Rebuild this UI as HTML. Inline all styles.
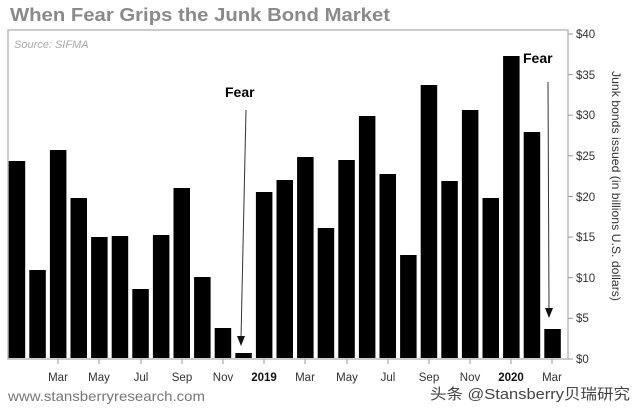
<!DOCTYPE html>
<html><head><style>body{margin:0;background:#fff}svg{display:block}</style></head><body>
<svg width="640" height="412" xmlns="http://www.w3.org/2000/svg" font-family="Liberation Sans, sans-serif">
<text x="10" y="21" font-size="18" font-weight="bold" fill="#8a8a8a" textLength="380" lengthAdjust="spacingAndGlyphs">When Fear Grips the Junk Bond Market</text>
<rect x="8" y="30" width="560" height="329" fill="none" stroke="#aaa" stroke-width="1.2"/>
<text x="14" y="48" font-size="11" font-style="italic" fill="#aaa">Source: SIFMA</text>
<g fill="#000">
<rect x="8.7" y="161" width="16.5" height="197"/>
<rect x="29.3" y="270" width="16.5" height="88"/>
<rect x="49.9" y="150" width="16.5" height="208"/>
<rect x="70.5" y="198" width="16.5" height="160"/>
<rect x="91.1" y="237" width="16.5" height="121"/>
<rect x="111.7" y="236" width="16.5" height="122"/>
<rect x="132.3" y="289" width="16.5" height="69"/>
<rect x="152.9" y="235" width="16.5" height="123"/>
<rect x="173.5" y="188" width="16.5" height="170"/>
<rect x="194.1" y="277" width="16.5" height="81"/>
<rect x="214.7" y="328" width="16.5" height="30"/>
<rect x="235.3" y="353" width="16.5" height="5"/>
<rect x="255.9" y="192" width="16.5" height="166"/>
<rect x="276.5" y="180" width="16.5" height="178"/>
<rect x="297.1" y="157" width="16.5" height="201"/>
<rect x="317.7" y="228" width="16.5" height="130"/>
<rect x="338.3" y="160" width="16.5" height="198"/>
<rect x="358.9" y="116" width="16.5" height="242"/>
<rect x="379.5" y="174" width="16.5" height="184"/>
<rect x="400.1" y="255" width="16.5" height="103"/>
<rect x="420.7" y="85" width="16.5" height="273"/>
<rect x="441.3" y="181" width="16.5" height="177"/>
<rect x="461.9" y="110" width="16.5" height="248"/>
<rect x="482.5" y="198" width="16.5" height="160"/>
<rect x="503.1" y="56" width="16.5" height="302"/>
<rect x="523.7" y="132" width="16.5" height="226"/>
<rect x="544.3" y="329" width="16.5" height="29"/>
</g>
<g stroke="#999" stroke-width="1">
<line x1="568" y1="34" x2="573" y2="34"/><line x1="568" y1="74.6" x2="573" y2="74.6"/><line x1="568" y1="115.2" x2="573" y2="115.2"/><line x1="568" y1="155.8" x2="573" y2="155.8"/><line x1="568" y1="196.5" x2="573" y2="196.5"/><line x1="568" y1="237.1" x2="573" y2="237.1"/><line x1="568" y1="277.7" x2="573" y2="277.7"/><line x1="568" y1="318.3" x2="573" y2="318.3"/><line x1="568" y1="359" x2="573" y2="359"/>
<line x1="58" y1="359" x2="58" y2="364"/><line x1="99" y1="359" x2="99" y2="364"/><line x1="141" y1="359" x2="141" y2="364"/><line x1="182" y1="359" x2="182" y2="364"/><line x1="223" y1="359" x2="223" y2="364"/><line x1="264" y1="359" x2="264" y2="364"/><line x1="305" y1="359" x2="305" y2="364"/><line x1="347" y1="359" x2="347" y2="364"/><line x1="388" y1="359" x2="388" y2="364"/><line x1="429" y1="359" x2="429" y2="364"/><line x1="470" y1="359" x2="470" y2="364"/><line x1="511" y1="359" x2="511" y2="364"/><line x1="552" y1="359" x2="552" y2="364"/>
</g>
<g font-size="11.5" fill="#333">
<text x="576" y="38">$40</text><text x="576" y="79">$35</text><text x="576" y="119">$30</text><text x="576" y="160">$25</text><text x="576" y="201">$20</text><text x="576" y="241">$15</text><text x="576" y="282">$10</text><text x="576" y="322">$5</text><text x="576" y="363">$0</text>
</g>
<g font-size="11.5" fill="#333" text-anchor="middle">
<text x="58" y="381">Mar</text><text x="99" y="381">May</text><text x="141" y="381">Jul</text><text x="182" y="381">Sep</text><text x="223" y="381">Nov</text><text x="264" y="381" font-weight="bold" fill="#111">2019</text><text x="305" y="381">Mar</text><text x="347" y="381">May</text><text x="388" y="381">Jul</text><text x="429" y="381">Sep</text><text x="470" y="381">Nov</text><text x="511" y="381" font-weight="bold" fill="#111">2020</text><text x="552" y="381">Mar</text>
</g>
<text transform="translate(612,186) rotate(90)" font-size="12" fill="#333" text-anchor="middle" textLength="230" lengthAdjust="spacingAndGlyphs">Junk bonds issued (in billions U.S. dollars)</text>
<text x="225" y="97" font-size="14" font-weight="bold">Fear</text>
<text x="523" y="63" font-size="14" font-weight="bold">Fear</text>
<line x1="246" y1="110" x2="241" y2="338" stroke="#333" stroke-width="1"/>
<polygon points="237,336 245,336 241,346" fill="#111"/>
<line x1="548" y1="82" x2="549" y2="310" stroke="#333" stroke-width="1"/>
<polygon points="545,308 553,308 549,318" fill="#111"/>
<text x="8" y="401" font-size="14" fill="#777" textLength="197" lengthAdjust="spacingAndGlyphs">www.stansberryresearch.com</text>
<text x="430" y="399" font-size="15" fill="#444" font-family="Liberation Sans, Noto Sans CJK SC, sans-serif" textLength="200" lengthAdjust="spacingAndGlyphs">头条 @Stansberry贝瑞研究</text>
</svg>
</body></html>
